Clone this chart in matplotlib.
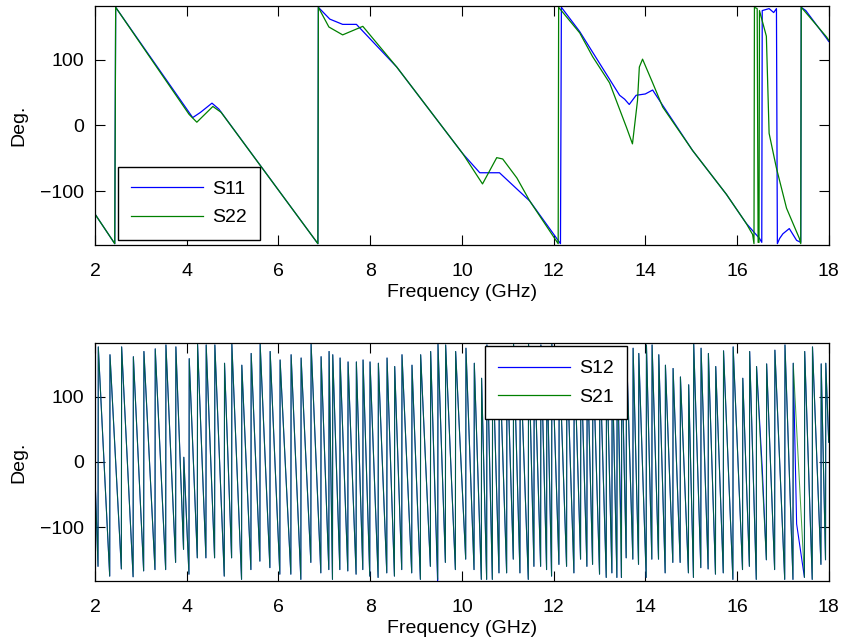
import matplotlib
matplotlib.use("Agg")
import matplotlib.pyplot as plt
from matplotlib.lines import Line2D

plt.rcParams["font.family"] = ["Liberation Sans", "DejaVu Sans"]

BLUE = "#0000ff"
GREEN = "#008000"

# --- S11 / S22 phase (deg) vs frequency (GHz) ---
s11_f = [2.0, 2.43, 2.45, 4.13, 4.3, 4.55, 4.7, 6.86, 6.87, 7.12, 7.4, 7.7, 8.58, 9.3,
         10.02, 10.39, 10.82, 11.48, 12.15, 12.17, 12.57, 13.0, 13.44, 13.55, 13.65,
         13.8, 14.0, 14.16, 14.31, 15.03, 15.77, 16.2, 16.49, 16.54, 16.55, 16.7, 16.8,
         16.86, 16.88, 16.93, 17.0, 17.14, 17.3, 17.39, 17.4, 17.5, 17.95, 18.0]
s11_deg = [-135, -180, 180, 12, 20, 34, 25, -180, 180, 162, 154, 154, 89, 23,
           -43, -72, -72, -115, -180, 180, 143, 95, 46, 40, 32,
           46, 48, 54, 38, -38, -105, -149, -172, -178, 175, 178, 172,
           178, -180, -172, -165, -157, -175, -178, 180, 175, 133, 128]

s22_f = [2.0, 2.43, 2.45, 4.05, 4.22, 4.57, 4.75, 6.86, 6.87, 7.1, 7.4, 7.84, 8.58, 9.3,
         10.02, 10.45, 10.76, 10.89, 11.2, 11.48, 12.10, 12.11, 12.57, 12.85, 13.22,
         13.59, 13.72, 13.83, 13.87, 13.94, 14.16, 14.38, 15.03, 15.77, 16.2, 16.34,
         16.37, 16.38, 16.44, 16.46, 16.48, 16.49, 16.64, 16.7, 16.86, 17.08, 17.36,
         17.39, 17.40, 17.5, 17.95, 18.0]
s22_deg = [-135, -180, 180, 17, 5, 29, 20, -180, 180, 150, 138, 151, 89, 23,
           -43, -89, -49, -51, -80, -115, -180, 180, 141, 105, 65,
           -3, -28, 38, 89, 101, 65, 28, -38, -105, -149, -166,
           -180, 180, 178, -178, -178, 175, 136, -12, -65, -126, -172,
           -180, 180, 172, 135, 130]

# --- S12 / S21 phase: wrap frequencies, value before wrap, value after wrap ---
wrap_f = [2.065, 2.32, 2.574, 2.83, 3.06, 3.307, 3.54, 3.757, 3.93, 4.048, 4.23, 4.418, 4.607,
          4.818, 4.978, 5.195, 5.399, 5.595, 5.813, 6.03, 6.27, 6.488, 6.706, 6.924, 7.098,
          7.178, 7.338,
          7.512, 7.693, 7.839, 7.991, 8.173, 8.362, 8.529, 8.688, 8.906, 9.095, 9.313, 9.473,
          9.64, 9.858,
          10.083, 10.265, 10.424, 10.54, 10.664, 10.809, 10.976, 11.121, 11.266, 11.448,
          11.571, 11.717, 11.847, 11.956, 12.116, 12.283, 12.443, 12.588,
          12.726, 12.85, 13.002, 13.148, 13.271, 13.38, 13.48, 13.583, 13.728, 13.852,
          14.019, 14.142, 14.288, 14.433, 14.6, 14.76, 14.94, 15.05, 15.21, 15.37,
          15.53, 15.70, 15.91, 16.12, 16.27, 16.42, 16.64, 16.82, 17.04, 17.22, 17.47,
          17.64, 17.83, 17.93]
trough_deg = [-160, -175, -164, -176, -167, -165, -165, -154, -134, -172, -147, -147, -147,
              -175, -147, -180, -165, -152, -162, -172, -172, -180, -154, -170, -165,
              -180, -165,
              -167, -172, -165, -175, -177, -170, -175, -165, -170, -180, -160, -180,
              -154, -165,
              -149, -165, -180, -180, -180, -170, -170, -149, -170, -180,
              -160, -160, -165, -175, -157, -160, -170, -149,
              -160, -157, -172, -177, -170, -177, -177, -147, -149, -157,
              -177, -149, -149, -170, -154, -154, -170, -177, -162, -164,
              -172, -170, -180, -165, -160, -180, -150, -165, -180, -180, -177,
              -180, -157, -150]
peak_deg = [176, 164, 176, 161, 169, 173, 179, 176, 7, 158, 180, 179, 179,
            151, 180, 148, 166, 180, 169, 156, 164, 159, 180, 161, 169,
            164, 159,
            153, 153, 156, 153, 151, 159, 146, 164, 148, 164, 169, 180,
            179, 169,
            174, 151, 128, 179, 169, 174, 169, 180, 164, 180,
            169, 179, 159, 180, 169, 164, 174, 166,
            165, 172, 160, 168, 158, 175, 170, 174, 174, 166,
            179, 179, 164, 148, 143, 130, 118, 180, 174, 166,
            146, 170, 176, 128, 169, 146, 150, 171, 179, 151, 169,
            176, 150, 151]
s21_start = (2.0, -24)
s21_end = (18.0, 30)
# a few spots where S12 departs from S21
s12_glitch_f = [9.47, 13.47, 16.55, 17.30]
s12_glitch_deg = [-182, -105, -10, -95]


def sawtooth(wf, lo, hi):
    f = [s21_start[0]]
    d = [s21_start[1]]
    for w, a, b in zip(wf, lo, hi):
        f += [w, w + 0.006]
        d += [a, b]
    f.append(s21_end[0])
    d.append(s21_end[1])
    return f, d


s21_f, s21_deg = sawtooth(wrap_f, trough_deg, peak_deg)
pairs = sorted(list(zip(s21_f, s21_deg)) + list(zip(s12_glitch_f, s12_glitch_deg)))
s12_f = [p[0] for p in pairs]
s12_deg = [p[1] for p in pairs]

fig = plt.figure(figsize=(8.44, 6.44), dpi=100)
ax1 = fig.add_axes([0.1126, 0.6196, 0.8693, 0.3711])
ax2 = fig.add_axes([0.1126, 0.0983, 0.8693, 0.3691])

FS = 14


def style(ax):
    ax.set_xlim(2, 18)
    ax.set_ylim(-182, 182)
    ax.set_xticks(range(2, 19, 2))
    ax.set_yticks([-100, 0, 100])
    ax.tick_params(direction="in", length=7, width=0.8, top=True, right=True,
                   labelsize=FS, colors="black")
    ax.tick_params(axis="x", pad=13)
    ax.tick_params(axis="y", pad=8)
    for s in ax.spines.values():
        s.set_linewidth(0.9)
    ax.set_xlabel("Frequency (GHz)", fontsize=FS, labelpad=3)
    ax.set_ylabel("Deg.", fontsize=FS, labelpad=9)


def legend(ax, labels, colors, loc, anchor):
    handles = [Line2D([], [], color=c, lw=0.9) for c in colors]
    lg = ax.legend(handles, labels, loc=loc, bbox_to_anchor=anchor,
                   fontsize=14, frameon=True, fancybox=False, edgecolor="black",
                   framealpha=1, handlelength=3.7, handletextpad=0.45,
                   borderpad=0.7, labelspacing=0.55, borderaxespad=0)
    lg.get_frame().set_linewidth(1.0)


ax1.plot(s11_f, s11_deg, color=BLUE, lw=0.9)
ax1.plot(s22_f, s22_deg, color=GREEN, lw=0.9)
style(ax1)
legend(ax1, ["S11", "S22"], [BLUE, GREEN], "lower left", (0.031, 0.021))

ax2.plot(s12_f, s12_deg, color=BLUE, lw=0.8)
ax2.plot(s21_f, s21_deg, color=GREEN, lw=0.75, alpha=0.72)
style(ax2)
legend(ax2, ["S12", "S21"], [BLUE, GREEN], "upper left", (0.531, 0.987))

fig.savefig("out.png", dpi=100)
